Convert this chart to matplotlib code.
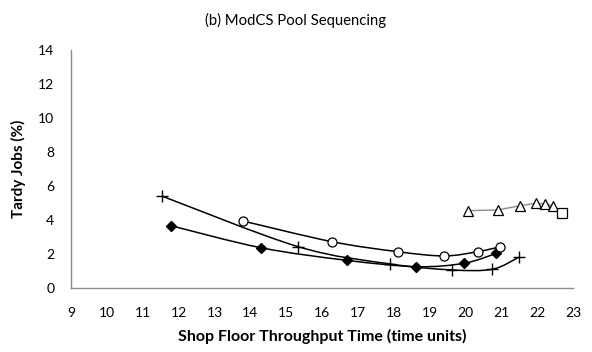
import numpy as np
import matplotlib
matplotlib.use("Agg")
import matplotlib.pyplot as plt
from matplotlib.path import Path
from matplotlib.patches import PathPatch

plt.rcParams['font.family'] = ['Lato', 'DejaVu Sans']

# series (x = throughput time, y = % tardy)
plus_x = [11.53, 15.34, 17.90, 19.62, 20.75, 21.48]
plus_y = [5.40, 2.42, 1.41, 1.06, 1.10, 1.80]

diamond_x = [11.78, 14.30, 16.70, 18.63, 19.96, 20.86]
diamond_y = [3.66, 2.36, 1.62, 1.25, 1.45, 2.03]

circle_x = [13.80, 16.27, 18.11, 19.40, 20.34, 20.97]
circle_y = [3.93, 2.72, 2.13, 1.88, 2.13, 2.42]

tri_x = [20.06, 20.90, 21.52, 21.96, 22.22, 22.43]
tri_y = [4.54, 4.58, 4.83, 4.97, 4.93, 4.83]

square_x = [22.69]
square_y = [4.38]

x_ticks = list(range(9, 24))
y_ticks = list(range(0, 15, 2))


def smooth_path(xs, ys):
    # Excel-style smoothed line: cubic Bezier segments (Catmull-Rom tangents)
    pts = np.column_stack([xs, ys])
    n = len(pts)
    verts = [pts[0]]
    codes = [Path.MOVETO]
    for i in range(n - 1):
        p0 = pts[max(i - 1, 0)]
        p1 = pts[i]
        p2 = pts[i + 1]
        p3 = pts[min(i + 2, n - 1)]
        c1 = p1 + (p2 - p0) / 6.0
        c2 = p2 - (p3 - p1) / 6.0
        verts += [c1, c2, p2]
        codes += [Path.CURVE4] * 3
    return Path(verts, codes)


fig = plt.figure(figsize=(5.92, 3.52), dpi=100)
ax = fig.add_axes([0.120, 0.182, 0.848, 0.677])

for xs, ys in [(plus_x, plus_y), (diamond_x, diamond_y), (circle_x, circle_y)]:
    ax.add_patch(PathPatch(smooth_path(xs, ys), facecolor='none',
                           edgecolor='black', lw=1.1, zorder=2))

ax.plot(plus_x, plus_y, ls='none', marker='+', ms=8, mew=1.0, color='black', zorder=3)
ax.plot(diamond_x, diamond_y, ls='none', marker='D', ms=5, color='black', zorder=3)
ax.plot(circle_x, circle_y, ls='none', marker='o', ms=6.5, mfc='white',
        mec='black', mew=0.9, zorder=3)

ax.plot(tri_x + square_x, tri_y + square_y, color='#8c8c8c', lw=1.0, zorder=2)
ax.plot(tri_x, tri_y, ls='none', marker='^', ms=6.5, mfc='white',
        mec='black', mew=0.9, zorder=3)
ax.plot(square_x, square_y, ls='none', marker='s', ms=6.5, mfc='white',
        mec='black', mew=0.9, zorder=3)

ax.set_xlim(9, 23)
ax.set_ylim(0, 14)
ax.set_xticks(x_ticks)
ax.set_yticks(y_ticks)
ax.tick_params(axis='both', length=0, labelsize=10, colors='black')
ax.tick_params(axis='x', pad=14)
ax.tick_params(axis='y', pad=12)

for s in ['top', 'right']:
    ax.spines[s].set_visible(False)
for s in ['left', 'bottom']:
    ax.spines[s].set_color('#8c8c8c')
    ax.spines[s].set_linewidth(1.0)

ax.set_xlabel('Shop Floor Throughput Time (time units)', fontsize=11.5,
              fontweight='bold', labelpad=7)
ax.set_ylabel('Tardy Jobs (%)', fontsize=11, fontweight='bold', labelpad=9)
fig.text(0.5, 0.943, '(b) ModCS Pool Sequencing', ha='center', va='center',
         fontsize=10.7)

fig.savefig('out.png', dpi=100)
